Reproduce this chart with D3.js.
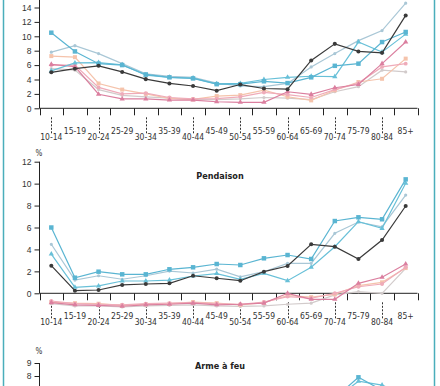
<!DOCTYPE html>
<html><head><meta charset="utf-8">
<script src="https://cdn.jsdelivr.net/npm/d3@7"></script>
<style>
html,body{margin:0;padding:0;background:#fff;}
svg{display:block;font-family:"DejaVu Sans Condensed","Liberation Sans Narrow","DejaVu Sans",sans-serif;font-stretch:condensed;}
</style></head><body>
<svg id="c" width="440" height="386"></svg>
<script>
const ageGroups = ["10-14","15-19","20-24","25-29","30-34","35-39","40-44","45-49","50-54","55-59","60-64","65-69","70-74","75-79","80-84","85+"];

// Panel 1 (title cropped)
const p1Black     = [5.0, 5.5, 5.9, 5.05, 4.05, 3.45, 3.1, 2.45, 3.3, 2.75, 2.65, 6.65, 8.95, 7.9, 7.7, 12.9];
const p1Teal      = [10.5, 7.9, 6.2, 6.0, 4.7, 4.3, 4.15, 3.35, 3.35, 3.75, 3.5, 4.3, 5.9, 6.2, 9.2, 10.6];
const p1LightBlue = [5.2, 6.3, 6.35, 6.05, 4.6, 4.3, 4.2, 3.4, 3.45, 4.0, 4.3, 4.45, 4.4, 9.2, 7.8, 10.3];
const p1Pale      = [7.8, 8.7, 7.6, 6.2, 4.8, 4.45, 4.3, 3.5, 3.1, 3.0, 3.45, 5.75, 7.6, 9.4, 10.8, 14.6];
const p1Pink      = [6.1, 5.8, 1.95, 1.3, 1.3, 1.14, 1.14, 0.91, 0.83, 0.83, 2.3, 1.93, 2.85, 3.3, 6.2, 9.2];
const p1LightPink = [6.0, 6.0, 2.9, 2.0, 2.1, 1.5, 1.3, 1.35, 1.6, 2.2, 1.9, 1.5, 2.6, 3.5, 5.75, 6.2];
const p1Peach     = [7.25, 7.1, 3.45, 2.6, 2.0, 1.38, 1.24, 1.7, 1.83, 2.52, 1.6, 1.1, 2.5, 3.65, 4.1, 6.9];
const p1Gray      = [5.5, 5.3, 2.6, 1.8, 1.6, 1.4, 1.2, 1.2, 1.3, 1.5, 1.4, 1.2, 2.3, 3.0, 5.3, 5.05];
const p1Ticks     = [0, 2, 4, 6, 8, 10, 12, 14];

// Panel 2 : Pendaison
const p2Title     = "Pendaison";
const p2Black     = [2.52, 0.24, 0.3, 0.76, 0.85, 0.91, 1.6, 1.37, 1.15, 1.97, 2.49, 4.47, 4.25, 3.13, 4.86, 7.96];
const p2Teal      = [6.0, 1.42, 1.97, 1.73, 1.73, 2.19, 2.37, 2.67, 2.58, 3.19, 3.49, 3.13, 6.59, 6.93, 6.75, 10.39];
const p2LightBlue = [3.58, 0.55, 0.67, 1.12, 1.12, 1.21, 1.58, 1.8, 1.27, 1.82, 1.15, 2.37, 4.25, 6.53, 5.92, 10.03];
const p2Pale      = [4.47, 1.21, 1.6, 1.28, 1.6, 2.03, 1.85, 2.2, 1.5, 1.97, 2.73, 2.73, 5.47, 6.5, 6.07, 8.96];
const p2Pink      = [-0.85, -1.05, -1.1, -1.18, -1.05, -1.0, -0.9, -1.05, -1.0, -0.9, 0.0, -0.55, -0.55, 0.91, 1.46, 2.67];
const p2LightPink = [-0.7, -0.95, -1.0, -1.05, -0.95, -0.9, -0.85, -0.95, -1.0, -0.8, -0.3, -0.45, 0.0, 0.6, 0.85, 2.37];
const p2Peach     = [-0.8, -0.9, -0.95, -1.1, -1.0, -0.95, -0.8, -0.9, -1.05, -0.85, -0.2, -0.35, -0.1, 0.7, 1.0, 2.3];
const p2Gray      = [-0.95, -1.15, -1.15, -1.25, -1.15, -1.1, -1.05, -1.15, -1.2, -1.15, -1.0, -0.9, -0.15, 0.15, 0.0, 2.28];
const p2Ticks     = [0, 2, 4, 6, 8, 10, 12];

// Panel 3 : Arme à feu (mostly cropped)
const p3Title     = "Arme à feu";
const p3Black     = [0.4, 1.6, 2.2, 2.0, 1.8, 1.7, 1.9, 2.0, 2.3, 2.5, 2.8, 3.4, 4.2, 5.0, 5.4, 5.6];
const p3Teal      = [0.2, 2.0, 2.6, 2.2, 2.0, 2.0, 2.1, 2.4, 2.6, 3.0, 3.4, 4.2, 6.3, 7.9, 6.9, 6.2];
const p3LightBlue = [0.2, 1.8, 2.4, 2.1, 1.9, 1.9, 2.0, 2.3, 2.5, 2.8, 3.2, 4.0, 6.2, 7.6, 7.3, 6.5];
const p3Pale      = [0.3, 1.5, 2.0, 1.9, 1.7, 1.6, 1.8, 2.0, 2.2, 2.6, 3.0, 3.6, 4.8, 5.6, 6.0, 5.8];
const p3Pink      = [0.0, 0.1, 0.15, 0.15, 0.15, 0.15, 0.2, 0.2, 0.2, 0.2, 0.25, 0.25, 0.3, 0.3, 0.3, 0.3];
const p3LightPink = [0.0, 0.1, 0.1, 0.1, 0.15, 0.15, 0.15, 0.2, 0.2, 0.2, 0.2, 0.25, 0.25, 0.3, 0.3, 0.3];
const p3Peach     = [0.0, 0.05, 0.1, 0.1, 0.1, 0.1, 0.15, 0.15, 0.15, 0.2, 0.2, 0.2, 0.2, 0.25, 0.25, 0.25];
const p3Gray      = [0.0, 0.05, 0.05, 0.1, 0.1, 0.1, 0.1, 0.1, 0.15, 0.15, 0.15, 0.2, 0.2, 0.2, 0.2, 0.2];
const p3Ticks     = [0, 1, 2, 3, 4, 5, 6, 7, 8, 9];

const seriesStyle = [
  {key:"gray",      color:"#d2cbcb", sym:d3.symbolCircle,   size:8},
  {key:"peach",     color:"#f5c3ab", sym:d3.symbolSquare,   size:16},
  {key:"lightpink", color:"#efabb9", sym:d3.symbolCircle,   size:12},
  {key:"pink",      color:"#db7f9f", sym:d3.symbolTriangle, size:12},
  {key:"pale",      color:"#a9c7d6", sym:d3.symbolCircle,   size:8},
  {key:"lightblue", color:"#68c0d8", sym:d3.symbolTriangle, size:12},
  {key:"teal",      color:"#5ab5d2", sym:d3.symbolSquare,   size:20},
  {key:"black",     color:"#3a3a3a", sym:d3.symbolCircle,   size:13}
];

const panels = [
  {title:null, ticks:p1Ticks, dom:[0,15], y0:108.3, y1:0.3, pct:null,
   data:{black:p1Black,teal:p1Teal,lightblue:p1LightBlue,pale:p1Pale,pink:p1Pink,lightpink:p1LightPink,peach:p1Peach,gray:p1Gray}},
  {title:p2Title, ticks:p2Ticks, dom:[0,12], y0:293.3, y1:161.7, pct:152.5, titleY:176,
   data:{black:p2Black,teal:p2Teal,lightblue:p2LightBlue,pale:p2Pale,pink:p2Pink,lightpink:p2LightPink,peach:p2Peach,gray:p2Gray}},
  {title:p3Title, ticks:p3Ticks, dom:[0,9], y0:480, y1:363, pct:350.5, titleY:366,
   data:{black:p3Black,teal:p3Teal,lightblue:p3LightBlue,pale:p3Pale,pink:p3Pink,lightpink:p3LightPink,peach:p3Peach,gray:p3Gray}}
];

const H = 386;
const svg = d3.select("#c");
const x = d3.scaleBand().domain(ageGroups).range([39.5, 417.5]).paddingInner(0).paddingOuter(0);
const cx = d => x(d) + x.bandwidth()/2;

// frame borders
svg.append("line").attr("x1",3.5).attr("x2",3.5).attr("y1",0).attr("y2",H).attr("stroke","#4aaebb").attr("stroke-width",1.5);
svg.append("line").attr("x1",434.5).attr("x2",434.5).attr("y1",0).attr("y2",H).attr("stroke","#4aaebb").attr("stroke-width",1.5);

panels.forEach(p => {
  const y = d3.scaleLinear().domain(p.dom).range([p.y0, p.y1]);
  const g = svg.append("g");
  // y axis (only the ticks inside the visible window)
  const ya = d3.axisLeft(y).tickValues(p.ticks.filter(t => y(t) + 4 < H)).tickSize(5).tickPadding(3).tickSizeOuter(0);
  const yg = g.append("g").attr("transform","translate(39.5,0)").call(ya);
  yg.select(".domain").attr("stroke","#222").attr("d", `M0,${Math.min(p.y0, H)}V${p.title? y(p.dom[1]) : 0}`);
  yg.selectAll(".tick line").attr("stroke","#222");
  yg.selectAll(".tick text").attr("fill","#333").style("font-size","8.5px").style("font-family","inherit");
  if (p.pct) g.append("text").attr("x",39).attr("y",p.pct+3).attr("text-anchor","middle").attr("fill","#333").style("font-size","8px").text("%");
  if (p.title) g.append("text").attr("x",220).attr("y",p.titleY+3).attr("text-anchor","middle").attr("fill","#222").style("font-size","9px").style("font-weight","bold").text(p.title);

  // x axis
  const ax = y(0);
  if (ax < H) {
    g.append("line").attr("x1",39.5).attr("x2",417.5).attr("y1",ax).attr("y2",ax).attr("stroke","#222");
    const bounds = ageGroups.map(a => x(a)).concat([x(ageGroups[ageGroups.length-1]) + x.bandwidth()]);
    g.selectAll(".bt").data(bounds).join("line").attr("x1",d=>Math.round(d)+0.5).attr("x2",d=>Math.round(d)+0.5)
      .attr("y1",ax).attr("y2",ax+7).attr("stroke","#222");
    ageGroups.forEach((a,i) => {
      const lower = i % 2 === 0 && i < 15;
      if (lower) {
        g.append("line").attr("x1",Math.round(cx(a))+0.5).attr("x2",Math.round(cx(a))+0.5).attr("y1",ax+9).attr("y2",ax+26)
          .attr("stroke","#333").attr("stroke-dasharray","2,1.5");
      }
      g.append("text").attr("x",cx(a)).attr("y", ax + (lower ? 32 : 26)).attr("text-anchor","middle")
        .attr("fill","#333").style("font-size","8.5px").text(a);
    });
  }

  // series
  const line = d3.line().x((d,i)=>cx(ageGroups[i])).y(d=>y(d));
  seriesStyle.forEach(s => {
    const vals = p.data[s.key];
    g.append("path").datum(vals).attr("d",line).attr("fill","none").attr("stroke",s.color).attr("stroke-width",1.2);
    g.selectAll(null).data(vals).join("path")
      .attr("transform",(d,i)=>`translate(${cx(ageGroups[i])},${y(d)})`)
      .attr("d", d3.symbol().type(s.sym).size(s.size)).attr("fill",s.color);
  });
});
</script>
</body></html>
